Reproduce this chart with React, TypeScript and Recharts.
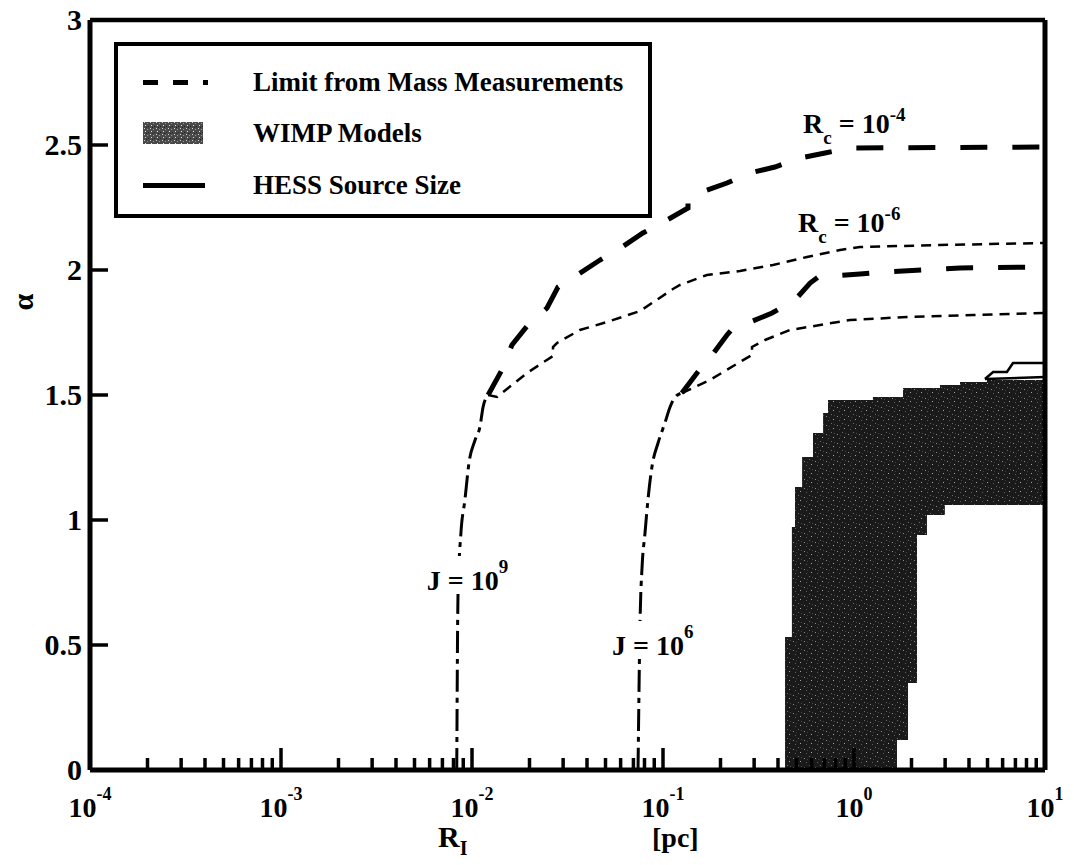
import React from 'react';
import { ComposedChart, Line, Area, XAxis, YAxis, Legend, ReferenceDot } from 'recharts';

const FONT = "'Liberation Serif', 'Times New Roman', Times, serif";

// ---- tick definitions ----
const xDecades = [0.0001, 0.001, 0.01, 0.1, 1, 10];
const xDecadeExponents = ['-4', '-3', '-2', '-1', '0', '1'];
const xMinorMultipliers = [2, 3, 4, 5, 6, 7, 8, 9];
const xAllTicks = [
  ...xDecades,
  ...xDecades.slice(0, 5).flatMap((d) => xMinorMultipliers.map((m) => d * m)),
].sort((a, b) => a - b);
const yTicks = [0, 0.5, 1, 1.5, 2, 2.5, 3];
const yTickLabels = ['0', '0.5', '1', '1.5', '2', '2.5', '3'];

// ---- J = 1e9 limit curve ----
const j9Stem = [
  { x: 0.00832, y: 0 },
  { x: 0.00845, y: 0.708 },
  { x: 0.00875, y: 0.948 },
  { x: 0.00918, y: 1.08 },
  { x: 0.00964, y: 1.228 },
  { x: 0.01038, y: 1.32 },
  { x: 0.011, y: 1.372 },
  { x: 0.01143, y: 1.452 },
  { x: 0.01214, y: 1.5 },
];
const j9Rc4 = [
  { x: 0.01214, y: 1.5 },
  { x: 0.01452, y: 1.608 },
  { x: 0.01618, y: 1.7 },
  { x: 0.01963, y: 1.78 },
  { x: 0.0247, y: 1.848 },
  { x: 0.0282, y: 1.932 },
  { x: 0.0355, y: 1.98 },
  { x: 0.0468, y: 2.04 },
  { x: 0.061, y: 2.092 },
  { x: 0.0785, y: 2.148 },
  { x: 0.105, y: 2.2 },
  { x: 0.1352, y: 2.248 },
  { x: 0.1352, y: 2.28 },
  { x: 0.16, y: 2.312 },
  { x: 0.2163, y: 2.348 },
  { x: 0.285, y: 2.388 },
  { x: 0.3855, y: 2.412 },
  { x: 0.521, y: 2.448 },
  { x: 0.705, y: 2.468 },
  { x: 0.953, y: 2.488 },
  { x: 10, y: 2.492 },
];
const j9Rc6 = [
  { x: 0.01214, y: 1.5 },
  { x: 0.01352, y: 1.492 },
  { x: 0.01941, y: 1.588 },
  { x: 0.02655, y: 1.656 },
  { x: 0.02655, y: 1.692 },
  { x: 0.02786, y: 1.708 },
  { x: 0.0367, y: 1.76 },
  { x: 0.0509, y: 1.792 },
  { x: 0.0759, y: 1.836 },
  { x: 0.1127, y: 1.924 },
  { x: 0.1227, y: 1.94 },
  { x: 0.1698, y: 1.98 },
  { x: 0.2529, y: 1.996 },
  { x: 0.3767, y: 2.02 },
  { x: 0.5675, y: 2.052 },
  { x: 0.8453, y: 2.08 },
  { x: 1.075, y: 2.092 },
  { x: 2.82, y: 2.1 },
  { x: 10, y: 2.108 },
];

// ---- J = 1e6 limit curve ----
const j6Stem = [
  { x: 0.074, y: 0 },
  { x: 0.0759, y: 0.608 },
  { x: 0.0777, y: 0.812 },
  { x: 0.0805, y: 0.948 },
  { x: 0.0834, y: 1.08 },
  { x: 0.0875, y: 1.212 },
  { x: 0.0942, y: 1.308 },
  { x: 0.1023, y: 1.388 },
  { x: 0.1089, y: 1.452 },
  { x: 0.1156, y: 1.492 },
  { x: 0.1256, y: 1.508 },
];
const j6Rc4 = [
  { x: 0.1256, y: 1.508 },
  { x: 0.1507, y: 1.588 },
  { x: 0.1807, y: 1.66 },
  { x: 0.2163, y: 1.74 },
  { x: 0.2323, y: 1.768 },
  { x: 0.2786, y: 1.788 },
  { x: 0.3724, y: 1.828 },
  { x: 0.491, y: 1.88 },
  { x: 0.589, y: 1.948 },
  { x: 0.649, y: 1.972 },
  { x: 0.776, y: 1.976 },
  { x: 1.075, y: 1.984 },
  { x: 1.452, y: 1.992 },
  { x: 3.59, y: 2.008 },
  { x: 10, y: 2.012 },
];
const j6Rc6 = [
  { x: 0.1256, y: 1.508 },
  { x: 0.1762, y: 1.56 },
  { x: 0.2529, y: 1.632 },
  { x: 0.2924, y: 1.66 },
  { x: 0.2924, y: 1.692 },
  { x: 0.342, y: 1.72 },
  { x: 0.4624, y: 1.76 },
  { x: 0.664, y: 1.78 },
  { x: 0.953, y: 1.8 },
  { x: 1.893, y: 1.812 },
  { x: 4.2, y: 1.82 },
  { x: 10, y: 1.828 },
];

// ---- WIMP models region: [low, high] per step ----
const wimpX = [0.4355, 0.473, 0.491, 0.535, 0.61, 0.689, 0.731, 1.256, 1.679, 1.806, 1.918, 2.138, 2.41, 2.82, 2.99, 3.59, 4.97, 10];
const wimpLow = [0, 0, 0, 0, 0, 0, 0, 0, 0.12, 0.12, 0.348, 0.94, 1.02, 1.02, 1.06, 1.06, 1.06, 1.06];
const wimpHigh = [0.532, 0.972, 1.132, 1.252, 1.348, 1.428, 1.48, 1.492, 1.492, 1.528, 1.528, 1.528, 1.528, 1.54, 1.54, 1.552, 1.56, 1.56];
const wimpRows = wimpX.map((x, i) => ({ x, r: [wimpLow[i], wimpHigh[i]] }));

// ---- HESS source size outline ----
const hessUpper = [
  { x: 4.85, y: 1.564 },
  { x: 5.35, y: 1.592 },
  { x: 6.32, y: 1.592 },
  { x: 6.8, y: 1.628 },
  { x: 10, y: 1.628 },
];
const hessLower = [
  { x: 4.85, y: 1.564 },
  { x: 10, y: 1.572 },
];

const XTick = (props: any) => {
  const { x, y, payload } = props;
  const v = payload.value;
  const idx = xDecades.findIndex((d) => Math.abs(Math.log10(d) - Math.log10(v)) < 1e-6);
  const isMajor = idx >= 0;
  const showLine = v > 0.00011 && v < 9.9;
  return (
    <g>
      {showLine && (
        <line x1={x} y1={y} x2={x} y2={y - (isMajor ? 22 : 12)} stroke="#000" strokeWidth={3.5} />
      )}
      {isMajor && (
        <text x={x} y={y + 47} textAnchor="middle" fontFamily={FONT} fontWeight="bold" fontSize={28} fill="#000">
          10<tspan dy={-17} fontSize={18}>{xDecadeExponents[idx]}</tspan>
        </text>
      )}
    </g>
  );
};

const YTick = (props: any) => {
  const { x, y, payload } = props;
  const v = payload.value;
  const i = yTicks.indexOf(v);
  return (
    <g>
      {v > 0 && v < 3 && <line x1={x} y1={y} x2={x + 18} y2={y} stroke="#000" strokeWidth={3.5} />}
      <text x={x - 8} y={y + 10} textAnchor="end" fontFamily={FONT} fontWeight="bold" fontSize={30} fill="#000">
        {yTickLabels[i]}
      </text>
    </g>
  );
};

const RcLabel = (exp: string) => (props: any) => {
  const { cx, cy } = props;
  return (
    <text x={cx} y={cy} fontFamily={FONT} fontWeight="bold" fontSize={28} fill="#000" style={{ whiteSpace: 'pre' }}>
      R<tspan dy={11} fontSize={19}>c</tspan>
      <tspan dy={-11} fontSize={28}> = 10</tspan>
      <tspan dy={-12} fontSize={19}>{exp}</tspan>
    </text>
  );
};

const JLabel = (exp: string, w: number) => (props: any) => {
  const { cx, cy } = props;
  return (
    <g>
      <rect x={cx - 3} y={cy - 34} width={w} height={38} fill="#fff" />
      <text x={cx} y={cy} fontFamily={FONT} fontWeight="bold" fontSize={28} fill="#000" style={{ whiteSpace: 'pre' }}>
        J = 10<tspan dy={-17} fontSize={19}>{exp}</tspan>
      </text>
    </g>
  );
};

const legendRows = [
  { key: 'limit', label: 'Limit from Mass Measurements' },
  { key: 'wimp', label: 'WIMP Models' },
  { key: 'hess', label: 'HESS Source Size' },
];

const bar = (left: number, width: number) => (
  <div style={{ position: 'absolute', left, top: 10, width, height: 5, background: '#000' }} />
);

const Swatch = ({ kind }: { kind: string }) => {
  if (kind === 'limit') {
    return (
      <div style={{ position: 'relative', width: 66, height: 24 }}>
        {bar(0, 15)}
        {bar(30, 15)}
        {bar(60, 5)}
      </div>
    );
  }
  if (kind === 'wimp') {
    return (
      <svg width={66} height={24} style={{ display: 'block' }}>
        <defs>
          <pattern id="legTex" width="6" height="6" patternUnits="userSpaceOnUse">
            <rect width="6" height="6" fill="#4a4a4a" />
            <rect x="1" y="1" width="1" height="1" fill="#cfcfcf" />
            <rect x="4" y="2" width="1" height="1" fill="#9a9a9a" />
            <rect x="2" y="4" width="1" height="1" fill="#e0e0e0" />
            <rect x="5" y="5" width="1" height="1" fill="#222" />
            <rect x="3" y="0" width="1" height="1" fill="#222" />
          </pattern>
        </defs>
        <rect x={0} y={1} width={60} height={22} fill="url(#legTex)" />
      </svg>
    );
  }
  return <div style={{ position: 'relative', width: 66, height: 24 }}>{bar(0, 62)}</div>;
};

const LegendBox = () => (
  <div
    style={{
      position: 'relative',
      width: 538,
      height: 176,
      border: '4px solid #000',
      boxSizing: 'border-box',
      background: '#fff',
      fontFamily: FONT,
      fontWeight: 'bold',
      fontSize: 27,
      color: '#000',
    }}
  >
    {legendRows.map((r, i) => (
      <div key={r.key} style={{ position: 'absolute', left: 0, top: [36, 87, 139][i] - 15, height: 30, width: '100%' }}>
        <div style={{ position: 'absolute', left: 25, top: 3 }}>
          <Swatch kind={r.key} />
        </div>
        <div style={{ position: 'absolute', left: 135, top: 0, lineHeight: '30px', whiteSpace: 'nowrap' }}>{r.label}</div>
      </div>
    ))}
  </div>
);

export default function App() {
  return (
    <div style={{ width: 1074, height: 862, margin: '-8px 0 0 -8px', overflow: 'hidden' }}>
      <ComposedChart width={1074} height={862} margin={{ top: 20, right: 29, left: 0, bottom: 0 }}>
        <defs>
          <pattern id="wimpTex" width="11" height="9" patternUnits="userSpaceOnUse">
            <rect width="11" height="9" fill="#1a1a1a" />
            <rect x="1" y="2" width="1" height="1" fill="#8c8c8c" />
            <rect x="6" y="0" width="1" height="1" fill="#6a6a6a" />
            <rect x="8" y="5" width="1" height="1" fill="#a5a5a5" />
            <rect x="3" y="6" width="1" height="1" fill="#5c5c5c" />
            <rect x="9" y="1" width="1" height="1" fill="#4a4a4a" />
            <rect x="4" y="3" width="1" height="1" fill="#3f3f3f" />
          </pattern>
        </defs>
        <XAxis
          dataKey="x"
          type="number"
          scale="log"
          domain={[0.0001, 10]}
          allowDataOverflow
          ticks={xAllTicks}
          interval={0}
          height={92}
          tickSize={0}
          tickMargin={0}
          tickLine={false}
          tick={<XTick />}
          axisLine={{ stroke: '#000', strokeWidth: 5 }}
          label={{
            content: () => (
              <g>
                <text x={438} y={847} fontFamily={FONT} fontWeight="bold" fontSize={30} fill="#000">
                  R<tspan dy={8} fontSize={20}>I</tspan>
                </text>
                <text x={652} y={847} fontFamily={FONT} fontWeight="bold" fontSize={28} fill="#000">
                  [pc]
                </text>
              </g>
            ),
          }}
        />
        <XAxis
          xAxisId="top"
          orientation="top"
          mirror
          type="number"
          scale="log"
          domain={[0.0001, 10]}
          allowDataOverflow
          tick={false}
          tickLine={false}
          axisLine={{ stroke: '#000', strokeWidth: 4.5 }}
        />
        <YAxis
          type="number"
          domain={[0, 3]}
          allowDataOverflow
          ticks={yTicks}
          interval={0}
          width={90}
          tickSize={0}
          tickMargin={0}
          tickLine={false}
          tick={<YTick />}
          axisLine={{ stroke: '#000', strokeWidth: 5 }}
          label={{
            content: () => (
              <text
                x={22}
                y={302}
                transform="rotate(-90 22 302)"
                textAnchor="middle"
                dominantBaseline="central"
                fontFamily={FONT}
                fontWeight="bold"
                fontSize={30}
                fill="#000"
              >
                α
              </text>
            ),
          }}
        />
        <YAxis
          yAxisId="right"
          orientation="right"
          mirror
          type="number"
          domain={[0, 3]}
          allowDataOverflow
          tick={false}
          tickLine={false}
          axisLine={{ stroke: '#000', strokeWidth: 5 }}
        />
        <Legend
          layout="horizontal"
          verticalAlign="middle"
          align="center"
          width={538}
          height={176}
          wrapperStyle={{ left: 114, top: 42, width: 538, height: 176 }}
          content={() => <LegendBox />}
        />

        <Area
          data={wimpRows}
          dataKey="r"
          type="stepAfter"
          fill="url(#wimpTex)"
          fillOpacity={1}
          stroke="none"
          dot={false}
          activeDot={false}
          isAnimationActive={false}
        />

        <Line data={hessUpper} dataKey="y" type="linear" stroke="#000" strokeWidth={2.5} dot={false} activeDot={false} isAnimationActive={false} />
        <Line data={hessLower} dataKey="y" type="linear" stroke="#000" strokeWidth={2.5} dot={false} activeDot={false} isAnimationActive={false} />

        <Line data={j9Stem} dataKey="y" type="monotone" stroke="#000" strokeWidth={3} strokeDasharray="22 6 5 6" dot={false} activeDot={false} isAnimationActive={false} />
        <Line data={j9Rc4} dataKey="y" type="linear" stroke="#000" strokeWidth={5} strokeDasharray="27 25" dot={false} activeDot={false} isAnimationActive={false} />
        <Line data={j9Rc6} dataKey="y" type="linear" stroke="#000" strokeWidth={2.5} strokeDasharray="10 7" dot={false} activeDot={false} isAnimationActive={false} />

        <Line data={j6Stem} dataKey="y" type="monotone" stroke="#000" strokeWidth={3} strokeDasharray="22 6 5 6" dot={false} activeDot={false} isAnimationActive={false} />
        <Line data={j6Rc4} dataKey="y" type="linear" stroke="#000" strokeWidth={5} strokeDasharray="27 25" dot={false} activeDot={false} isAnimationActive={false} />
        <Line data={j6Rc6} dataKey="y" type="linear" stroke="#000" strokeWidth={2.5} strokeDasharray="10 7" dot={false} activeDot={false} isAnimationActive={false} />

        <ReferenceDot x={0.541} y={2.548} r={0} shape={RcLabel('-4')} />
        <ReferenceDot x={0.509} y={2.152} r={0} shape={RcLabel('-6')} />
        <ReferenceDot x={0.0058} y={0.72} r={0} shape={JLabel('9', 92)} />
        <ReferenceDot x={0.0541} y={0.46} r={0} shape={JLabel('6', 96)} />
      </ComposedChart>
    </div>
  );
}
